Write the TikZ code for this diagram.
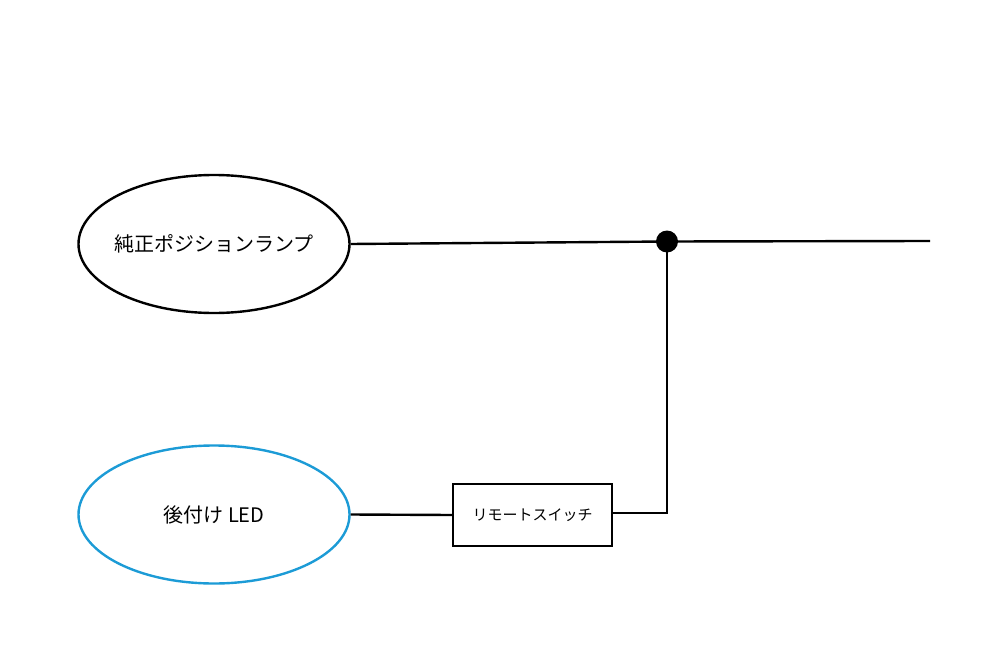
\documentclass[tikz,border=0pt]{standalone}
\usepackage{fontspec}
\newfontfamily\cjk{Noto Sans CJK JP}
\usetikzlibrary{shapes.geometric}
\definecolor{ledblue}{RGB}{28,155,214}
\tikzset{
  wire/.style={line width=2.4pt, black},
  lamp/.style={ellipse, draw, line width=2.4pt, minimum width=271pt, minimum height=138pt, inner sep=0pt},
  lamptext/.style={font=\cjk\fontsize{20}{23}\selectfont},
  relay/.style={rectangle, draw, line width=2.4pt, minimum width=159pt, minimum height=62pt, inner sep=0pt, font=\cjk\fontsize{15}{18}\selectfont},
  junction/.style={circle, fill=black, minimum size=22pt, inner sep=0pt}
}
\begin{document}
\begin{tikzpicture}[x=1pt,y=-1pt]
\useasboundingbox (0,0) rectangle (1000,655);
\node[lamp, label={[lamptext]center:純正ポジションランプ}] (pos) at (214,244) {};
\node[lamp, draw=ledblue, label={[lamptext]center:後付け LED}] (led) at (214,514.5) {};
\node[relay] (sw) at (532.5,515) {リモートスイッチ};
\node[junction] (j) at (667,241.5) {};
\coordinate (end) at (930,241);
\coordinate (corner) at (667,513);
\draw[wire] (pos.east) -- (j.center) -- (end);
\draw[wire] (led.east) -- (sw.west);
\draw[wire] (sw.east |- corner) -- (corner) -- (j.center);
\end{tikzpicture}
\end{document}
